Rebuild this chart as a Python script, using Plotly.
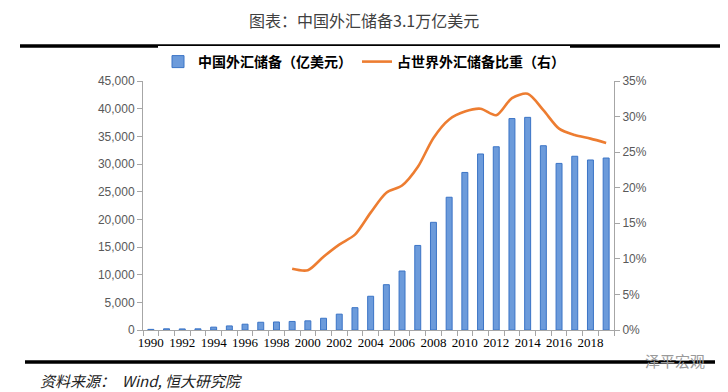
import plotly.graph_objects as go

years = list(range(1990, 2020))
reserves = [111, 217, 194, 212, 516, 736, 1050, 1399, 1450, 1547, 1656, 2122, 2864, 4033,
            6099, 8189, 10663, 15282, 19460, 23992, 28473, 31811, 33116, 38213, 38430,
            33304, 30105, 31399, 30727, 31079]
share_years = list(range(1999, 2020))
share = [8.6, 8.4, 10.3, 12.0, 13.4, 16.5, 19.3, 20.3, 22.9, 27.0, 29.6, 30.7, 31.1, 30.2,
         32.6, 33.2, 30.9, 28.3, 27.4, 26.9, 26.3]
tick_years = list(range(1990, 2019, 2))

OFF = 8  # page body margin
W, H = 728 - OFF, 392 - OFF
# plot area in screen pixels
L, R, T, B = 143, 614, 81, 330

def px(x):
    return (x - L) / (R - L)

def py(y):
    return (B - y) / (B - T)

fig = go.Figure()
fig.add_trace(go.Bar(
    x=years, y=reserves, name="中国外汇储备（亿美元）",
    marker=dict(color="#6C9BDB", line=dict(color="#3B74C6", width=1)),
    width=0.38,
))
fig.add_trace(go.Scatter(
    x=share_years, y=[v / 100 for v in share], name="占世界外汇储备比重（右）",
    mode="lines", line=dict(color="#ED7D31", width=2.6, shape="spline", smoothing=0.8),
    yaxis="y2",
))

axis_gray = "#A6A6A6"
tick_font = dict(family="Liberation Sans, Arial", size=12, color="#595959")

fig.update_layout(
    width=W, height=H,
    margin=dict(l=L - OFF, r=W + OFF - R, t=T - OFF, b=H + OFF - B),
    paper_bgcolor="white", plot_bgcolor="white",
    showlegend=True,
    legend=dict(orientation="h", x=px(364), xanchor="center", y=py(62), yanchor="middle",
                font=dict(family="Noto Sans CJK SC", size=14, color="#000000", weight="bold"),
                itemwidth=30, traceorder="normal"),
    xaxis=dict(range=[1989.5, 2019.5], tickvals=tick_years, ticktext=[str(y) for y in tick_years],
               showline=True, linecolor=axis_gray, linewidth=1, ticks="", showgrid=False,
               zeroline=False,
               tickfont=dict(family="Liberation Serif, Times New Roman", size=13, color="#000000"),
               minor=dict(tickvals=[y + 0.5 for y in range(1989, 2020)], ticks="outside",
                          ticklen=5, tickcolor=axis_gray, showgrid=False)),
    yaxis=dict(range=[0, 45000], dtick=5000, tickformat=",d", showline=True, linecolor=axis_gray,
               ticks="outside", ticklen=5, tickcolor=axis_gray, showgrid=False, zeroline=False,
               tickfont=tick_font),
    yaxis2=dict(range=[0, 0.35], dtick=0.05, tickformat=".0%", overlaying="y", side="right",
                showline=True, linecolor=axis_gray, ticks="outside", ticklen=5, tickcolor=axis_gray,
                showgrid=False, zeroline=False, tickfont=tick_font),
)

fig.add_annotation(text="图表：中国外汇储备3.1万亿美元", xref="paper", yref="paper",
                   x=px(364), y=py(20), xanchor="center", yanchor="middle", showarrow=False,
                   font=dict(family="Noto Sans CJK SC", size=16, color="#404040"))
fig.add_shape(type="line", xref="paper", yref="paper", x0=px(20), x1=px(725), y0=py(46), y1=py(46),
              line=dict(color="#000000", width=3.5))
fig.add_shape(type="line", xref="paper", yref="paper", x0=px(25), x1=px(715), y0=py(362), y1=py(362),
              line=dict(color="#000000", width=3.5))
fig.add_annotation(text="<i>资料来源：  Wind, 恒大研究院</i>", xref="paper", yref="paper",
                   x=px(38), y=py(380), xanchor="left", yanchor="middle", showarrow=False,
                   font=dict(family="Noto Sans CJK SC", size=15, color="#222222"))
fig.add_annotation(text="泽平宏观", xref="paper", yref="paper",
                   x=px(675), y=py(360), xanchor="center", yanchor="middle", showarrow=False,
                   font=dict(family="Noto Sans CJK SC", size=15, color="#9A9A9A"))

fig.write_html("out.html")
